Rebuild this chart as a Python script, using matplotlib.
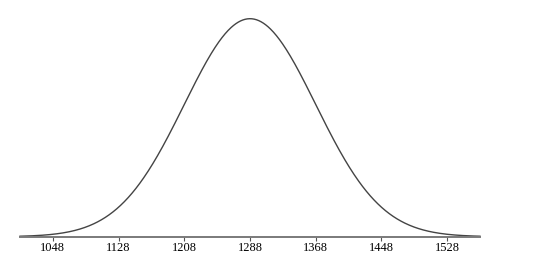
import numpy as np
import matplotlib.pyplot as plt

# normal distribution shown in the chart
mean = 1288
sd = 80
x_lo, x_hi = 1008, 1568
tick_values = [1048, 1128, 1208, 1288, 1368, 1448, 1528]

x = np.linspace(x_lo, x_hi, 600)
y = np.exp(-0.5 * ((x - mean) / sd) ** 2) / (sd * np.sqrt(2 * np.pi))

fig = plt.figure(figsize=(5.48, 2.74), dpi=100)
W, H = 548, 274
ax = fig.add_axes([20 / W, 1 - 236.7 / H, 460 / W, (236.7 - 18.7) / H])

ax.plot(x, y, color='#444444', lw=1.0, clip_on=False)
ax.set_xlim(x_lo, x_hi)
ax.set_ylim(0, y.max())

for s in ['top', 'right', 'left']:
    ax.spines[s].set_visible(False)
ax.spines['bottom'].set_color('#7a7a7a')
ax.spines['bottom'].set_linewidth(1.4)
ax.set_yticks([])
ax.set_xticks(tick_values)
ax.set_xticklabels([str(t) for t in tick_values], family='Liberation Serif', fontsize=9)
ax.tick_params(axis='x', direction='out', length=3, width=0.8, color='#555555', pad=1)

fig.savefig('out.png', dpi=100)
